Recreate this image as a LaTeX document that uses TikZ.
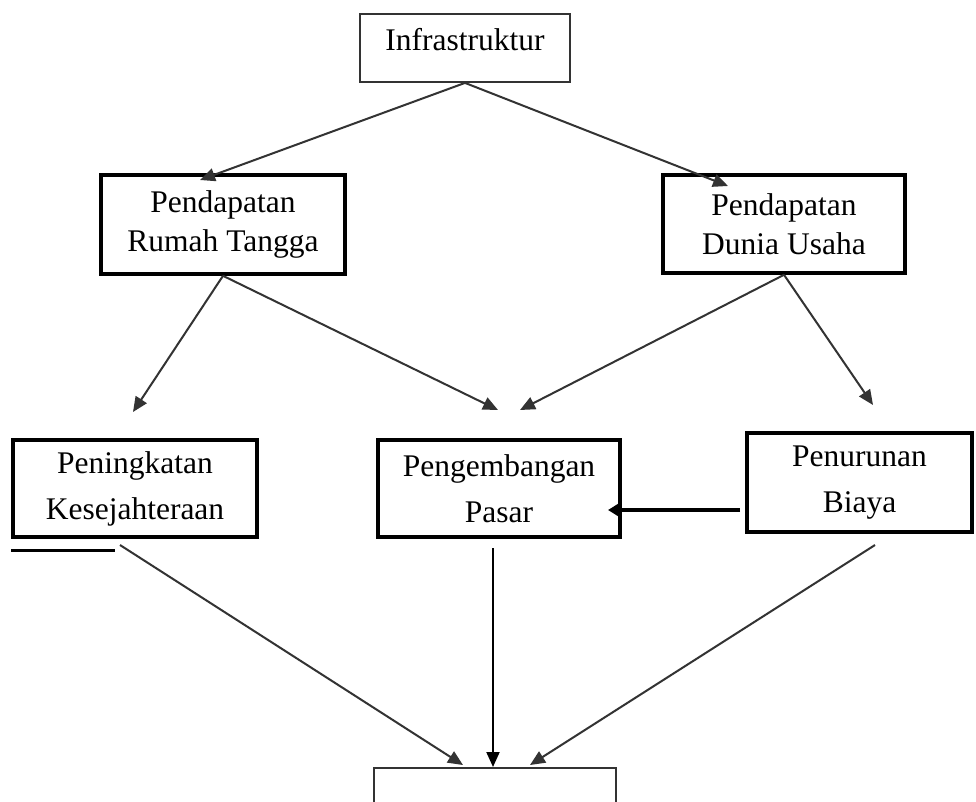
\documentclass[tikz,border=0pt]{standalone}
\usepackage{fontspec}
\setmainfont{Liberation Serif}
\usetikzlibrary{arrows.meta,calc}
\begin{document}
\begin{tikzpicture}[x=1pt,y=-1pt,
  thickbox/.style={draw=black,line width=3.6pt,rectangle,inner sep=0pt,align=center},
  thinbox/.style={draw=black!80,line width=1.8pt,rectangle,inner sep=0pt,align=center},
  rowA/.style={font=\fontsize{31.5}{39}\selectfont},
  rowB/.style={font=\fontsize{31.5}{46}\selectfont},
  conn/.style={draw=black!80,line width=2pt,-{Triangle[length=15pt,width=13pt]}},
  bigconn/.style={draw=black,line width=3.4pt,-{Triangle[length=12pt,width=14pt]}}]
\clip (0,0) rectangle (976,801);
\fill[white] (0,0) rectangle (976,801);

% nodes
\node[thinbox,minimum width=210pt,text height=36pt,text depth=32pt,font=\fontsize{31.5}{39}\selectfont] (infra) at (465,48) {Infrastruktur};
\node[thickbox,rowA,minimum width=244pt,minimum height=99pt] (prt) at (223,224.5) {Pendapatan\\Rumah Tangga};
\node[thickbox,rowA,minimum width=242pt,minimum height=98pt] (pdu) at (784,224) {Pendapatan\\Dunia Usaha};
\node[thickbox,rowB,minimum width=244pt,minimum height=97pt] (pk) at (135,488.5) {Peningkatan\\Kesejahteraan};
\node[thickbox,rowB,minimum width=242pt,minimum height=97pt] (pp) at (499,488.5) {Pengembangan\\Pasar};
\node[thickbox,rowB,minimum width=225pt,minimum height=99pt] (pb) at (859.5,482.5) {Penurunan\\Biaya};
\node[thinbox,minimum width=242pt,minimum height=64pt] (bot) at (495,800) {};

% free ends
\coordinate (t1) at (200,180);
\coordinate (t2) at (728,186);
\coordinate (t3) at (133,412);
\coordinate (t4) at (498,410);
\coordinate (t5) at (520,410);
\coordinate (t6) at (873,405);
\coordinate (s7) at (740,510);
\coordinate (t7) at (608,510);
\coordinate (s8) at (120,545);
\coordinate (s9) at (493,548);
\coordinate (s10) at (875,545);
\coordinate (t8) at (463,765);
\coordinate (t9) at (493,767);
\coordinate (t10) at (530,765);
\coordinate (u1) at (11,550);
\coordinate (u2) at (115,550);

% connectors
\draw[conn] (infra.south) -- (t1);
\draw[conn] (infra.south) -- (t2);
\draw[conn] (prt.south) -- (t3);
\draw[conn] (prt.south) -- (t4);
\draw[conn] (pdu.south) -- (t5);
\draw[conn] (pdu.south) -- (t6);
\draw[bigconn] (s7) -- (t7);
\draw[conn] (s8) -- (t8);
\draw[conn,draw=black] (s9) -- (t9);
\draw[conn] (s10) -- (t10);
\draw[line width=3pt] (u1) -- (u2);
\end{tikzpicture}
\end{document}
